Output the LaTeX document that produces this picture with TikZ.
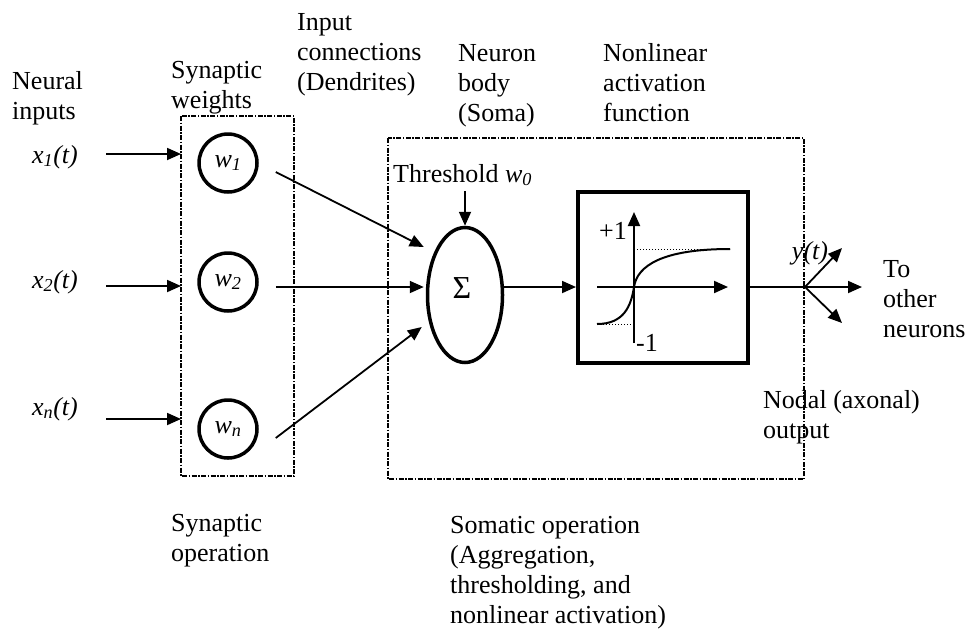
\documentclass[tikz,border=0pt]{standalone}
\usepackage{fontspec}
\setmainfont{Liberation Serif}
\usepackage{tikz}
\usetikzlibrary{arrows.meta,shapes.geometric,calc}

\tikzset{
    arr/.style={-{Triangle[length=14pt,width=12pt]}, line width=1.8pt},
    boxline/.style={line width=1.3pt, dash pattern=on 5pt off 1.5pt on 1.5pt off 1.5pt},
    weight/.style={circle, draw, line width=3.5pt, minimum size=58pt, inner sep=0pt},
    lbl/.style={align=left, anchor=base west, inner sep=0pt},
}

\begin{document}
\begin{tikzpicture}[x=1pt, y=-1pt, font=\fontsize{26}{30}\selectfont]
\useasboundingbox (0,0) rectangle (971,633);

% dashed operation boxes
\draw[boxline] (181,116) rectangle (294,476);
\draw[boxline] (388,138) rectangle (804,479);

% texts (placed at the baseline of their last line)
\node[lbl] (neurin) at (12,119) {Neural\\inputs};
\node[lbl] (synw) at (171,108) {Synaptic\\weights};
\node[lbl] (dend) at (297,90) {Input\\connections\\(Dendrites)};
\node[lbl] (soma) at (458,121) {Neuron\\body\\(Soma)};
\node[lbl] (actf) at (603,121) {Nonlinear\\activation\\function};
\node[lbl] (thr) at (393,182) {Threshold \textit{w\textsubscript{0}}};
\node[lbl] (toout) at (883,337) {To\\other\\neurons};
\node[lbl] (nodal) at (763,438) {Nodal (axonal)\\output};
\node[lbl] (synop) at (171,561) {Synaptic\\operation};
\node[lbl] (somop) at (450,623) {Somatic operation\\(Aggregation,\\thresholding, and\\nonlinear activation)};

% inputs and weights
\foreach \n/\y/\yw/\yb in {
1/154/163/163,
2/286/282/288,
n/419/429/415
}
{
    \node[lbl] (x\n) at (32,\yb) {\textit{x\textsubscript{\n}(t)}};
    \node[weight] (w\n) at (228,\yw) {\textit{w\textsubscript{\n}}};
    \coordinate (in\n) at (181,\y);
    \draw[arr] ($(x\n.east |- in\n)+(28,0)$) -- (in\n);
}

% soma
\node[ellipse, draw, line width=3.5pt, minimum width=75pt, minimum height=135pt, inner sep=0pt] (sum) at (465,295) {};
\node[font=\fontsize{32}{36}\selectfont] (sig) at (462,288) {Σ};
\coordinate (br) at (805,287);

\draw[arr] ($(w1.east)+(17,9)$) -- ($(sum.west)+(-2,-48)$);
\draw[arr] ($(w2.east)+(17,5)$) -- ($(sum.west)+(-2,-8)$);
\draw[arr] ($(wn.east)+(17,9)$) -- ($(sum.west)+(-4,32)$);
\draw[arr, shorten <=5pt] (thr.south -| sum.north) -- (sum.north);

% activation function
\node[draw, line width=4pt, minimum width=170pt, minimum height=171pt, inner sep=0pt] (act) at (663,277.5) {};
\draw[arr] (sum.east |- br) -- (act.west |- br);

\draw[arr, line width=2pt] (597,287) -- (728,287);
\draw[arr, line width=2pt] (634,343) -- (634,212);
\draw[dotted, line width=1pt] (597,324) -- (634,324);
\draw[dotted, line width=1pt] (634,249) -- (730,249);
\draw[line width=2pt] (597,324) .. controls (624,324) and (631,306) .. (634,287)
    .. controls (637,266) and (662,249) .. (730,249);
\node (plus) at (613,231) {+1};
\node (minus) at (647,343) {-1};

% output
\coordinate (o1) at (862,287);
\coordinate (o2) at (842,248);
\coordinate (o3) at (842,323);
\draw[line width=1.8pt] (act.east |- br) -- (br);
\draw[arr] (br) -- (o1);
\draw[arr] (br) -- (o2);
\draw[arr] (br) -- (o3);
\node (yt) at (810,253) {\textit{y(t)}};

\end{tikzpicture}
\end{document}
